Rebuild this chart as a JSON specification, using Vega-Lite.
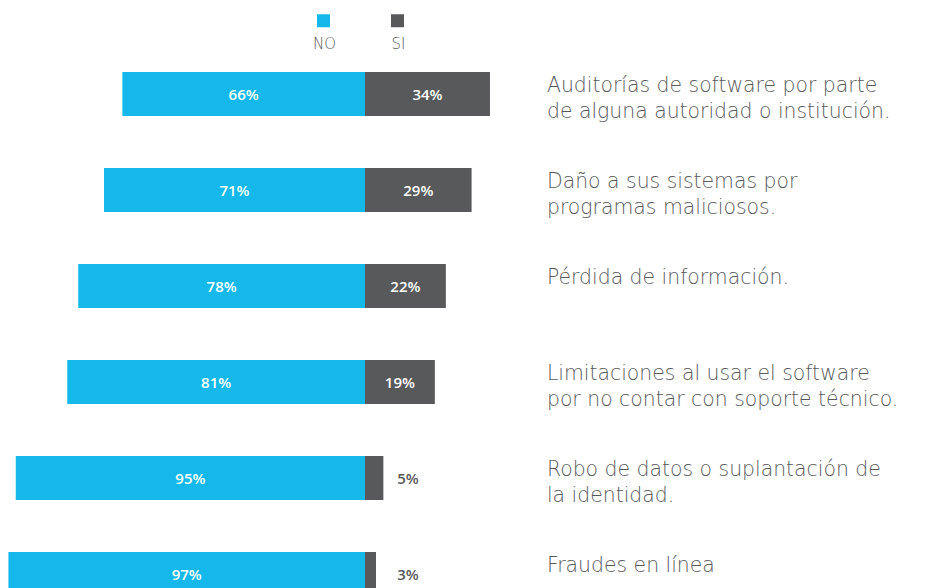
{
  "$schema": "https://vega.github.io/schema/vega-lite/v6.json",
  "width": 929,
  "height": 588,
  "autosize": "none",
  "padding": 0,
  "background": "white",
  "config": {"view": {"stroke": null}},
  "data": {
    "values": [
      {"cat": "a", "label": ["Auditorías de software por parte", "de alguna autoridad o institución."], "NO": 66, "SI": 34},
      {"cat": "b", "label": ["Daño a sus sistemas por", "programas maliciosos."], "NO": 71, "SI": 29},
      {"cat": "c", "label": ["Pérdida de información."], "NO": 78, "SI": 22},
      {"cat": "d", "label": ["Limitaciones al usar el software", "por no contar con soporte técnico."], "NO": 81, "SI": 19},
      {"cat": "e", "label": ["Robo de datos o suplantación de", "la identidad."], "NO": 95, "SI": 5},
      {"cat": "f", "label": ["Fraudes en línea"], "NO": 97, "SI": 3}
    ]
  },
  "encoding": {
    "y": {
      "field": "cat",
      "type": "nominal",
      "axis": null,
      "sort": null,
      "scale": {"range": [46, 622], "paddingInner": 0.5417, "paddingOuter": 0.2708}
    }
  },
  "layer": [
    {
      "transform": [
        {"fold": ["NO", "SI"], "as": ["key", "value"]},
        {"calculate": "datum.key == 'NO' ? -datum.value : 0", "as": "start"},
        {"calculate": "datum.key == 'NO' ? 0 : datum.value", "as": "end"}
      ],
      "mark": {"type": "bar"},
      "encoding": {
        "x": {"field": "start", "type": "quantitative", "axis": null, "scale": {"domain": [-99.29, 153.43], "nice": false, "zero": false}},
        "x2": {"field": "end"},
        "color": {
          "field": "key",
          "type": "nominal",
          "scale": {"domain": ["NO", "SI"], "range": ["#14B8EA", "#58595B"]},
          "legend": {
            "orient": "none",
            "legendX": 316,
            "legendY": 13,
            "direction": "horizontal",
            "title": null,
            "symbolType": "square",
            "symbolSize": 169,
            "symbolStrokeWidth": 0,
            "symbolOpacity": 1,
            "labelFont": "DejaVu Sans",
            "labelFontSize": 15,
            "labelFontWeight": 200,
            "labelColor": "#58595B",
            "labelOffset": 0,
            "labelAlign": "center",
            "columnPadding": 53,
            "encode": {
              "labels": {"update": {"dx": {"value": -6.5}, "dy": {"value": 23}}}
            }
          }
        }
      }
    },
    {
      "transform": [
        {"fold": ["NO", "SI"], "as": ["key", "value"]},
        {"calculate": "datum.key == 'NO' ? -datum.value / 2 : (datum.value < 10 ? 11.7 : datum.value / 2)", "as": "mid"},
        {"calculate": "datum.value + '%'", "as": "txt"}
      ],
      "mark": {"type": "text", "font": "Open Sans", "fontSize": 15, "fontWeight": 600, "align": "center", "baseline": "middle", "dy": 1},
      "encoding": {
        "x": {"field": "mid", "type": "quantitative"},
        "text": {"field": "txt"},
        "color": {
          "condition": {"test": "datum.key == 'SI' && datum.value < 10", "value": "#58595B"},
          "value": "#FFFFFF"
        }
      }
    },
    {
      "mark": {"type": "text", "font": "DejaVu Sans", "fontSize": 20.4, "fontWeight": 200, "align": "left", "baseline": "top", "lineHeight": 26, "dy": -18, "color": "#58595B"},
      "encoding": {
        "x": {"datum": 49.5, "type": "quantitative"},
        "text": {"field": "label"}
      }
    }
  ]
}
